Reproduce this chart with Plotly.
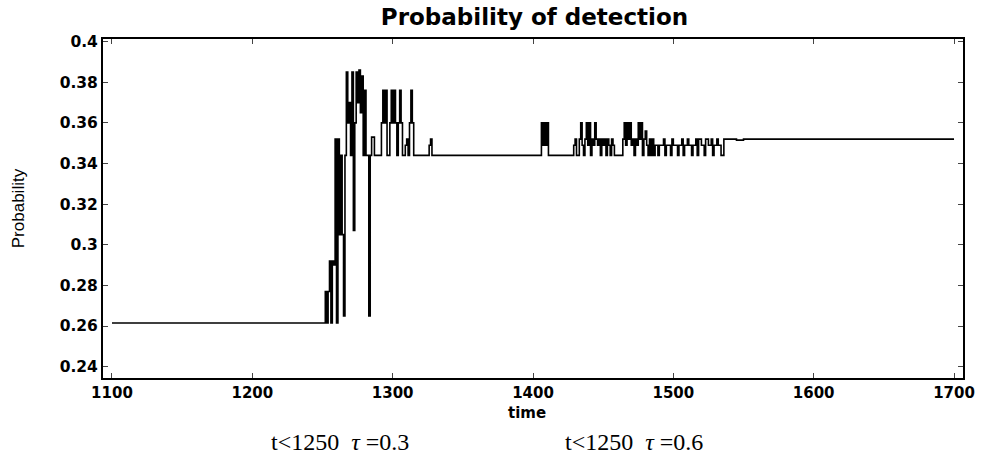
import plotly.graph_objects as go

# change points (step signal)
times = [1100, 1252, 1253, 1254, 1255, 1256, 1257, 1258, 1259, 1260, 1261, 1262, 1263, 1264, 1265,
         1266, 1267, 1268, 1269, 1270, 1271, 1272, 1273, 1274, 1275, 1276, 1277, 1278, 1279, 1280,
         1281, 1283, 1284, 1285, 1287,
         1292, 1293, 1294, 1295, 1296, 1298, 1299, 1300, 1301, 1302, 1303, 1304, 1305, 1306, 1307,
         1309, 1310, 1311, 1312, 1313, 1314, 1315,
         1326, 1327, 1328,
         1406, 1407, 1408, 1409, 1410, 1411,
         1429, 1430, 1431, 1433, 1434, 1435, 1436, 1437, 1438, 1439, 1440, 1441, 1442, 1443, 1444,
         1445, 1446, 1447, 1448, 1449, 1450, 1451, 1452, 1453, 1454, 1455, 1456, 1457, 1458,
         1464, 1465, 1466, 1467, 1468, 1469, 1470, 1471, 1472, 1473, 1474, 1475, 1476, 1477, 1478,
         1479, 1480, 1481, 1482, 1483, 1484, 1485, 1486, 1487, 1489, 1490, 1493, 1494, 1495, 1498,
         1499, 1500, 1503, 1504, 1506, 1507, 1508, 1510, 1511, 1513, 1514, 1516, 1517, 1518, 1520,
         1522, 1523, 1525, 1527, 1528, 1529, 1531, 1532, 1534, 1536, 1545, 1550, 1700]
probability = [0.2615, 0.277, 0.2615, 0.277, 0.292, 0.2615, 0.292, 0.290, 0.352, 0.2615, 0.352, 0.305, 0.344, 0.305, 0.265,
               0.344, 0.385, 0.360, 0.370, 0.344, 0.385, 0.307, 0.360, 0.385, 0.370, 0.386, 0.365, 0.383, 0.344, 0.376,
               0.344, 0.265, 0.344, 0.353, 0.344,
               0.360, 0.376, 0.360, 0.376, 0.344, 0.360, 0.376, 0.360, 0.376, 0.360, 0.344, 0.360, 0.376, 0.360, 0.344,
               0.349, 0.352, 0.344, 0.360, 0.376, 0.360, 0.344,
               0.349, 0.352, 0.344,
               0.360, 0.349, 0.360, 0.349, 0.360, 0.344,
               0.349, 0.352, 0.344, 0.352, 0.360, 0.349, 0.344, 0.352, 0.360, 0.349, 0.360, 0.344, 0.352, 0.349, 0.360,
               0.352, 0.349, 0.352, 0.344, 0.352, 0.349, 0.352, 0.344, 0.352, 0.349, 0.344, 0.352, 0.349, 0.344,
               0.352, 0.360, 0.349, 0.360, 0.352, 0.360, 0.349, 0.352, 0.344, 0.352, 0.349, 0.360, 0.352, 0.360, 0.344,
               0.352, 0.356, 0.349, 0.344, 0.352, 0.344, 0.352, 0.344, 0.349, 0.344, 0.349, 0.352, 0.344, 0.349, 0.344,
               0.352, 0.349, 0.344, 0.349, 0.352, 0.344, 0.349, 0.352, 0.349, 0.344, 0.349, 0.352, 0.344, 0.352, 0.349,
               0.344, 0.352, 0.349, 0.352, 0.344, 0.349, 0.352, 0.349, 0.344, 0.352, 0.3515, 0.352, 0.352]

x_ticks = [1100, 1200, 1300, 1400, 1500, 1600, 1700]
y_ticks = [0.24, 0.26, 0.28, 0.30, 0.32, 0.34, 0.36, 0.38, 0.40]
y_tick_labels = ["0.24", "0.26", "0.28", "0.3", "0.32", "0.34", "0.36", "0.38", "0.4"]

title_text = "Probability of detection"
x_label = "time"
y_label = "Probability"
captions = ["t<1250  <i>τ</i> =0.3", "t<1250  <i>τ</i> =0.6"]

fig = go.Figure()
fig.add_trace(go.Scatter(x=times, y=probability, mode="lines", line_shape="hv",
                         line=dict(color="black", width=1.6), showlegend=False))

fig.update_xaxes(range=[1093.6, 1706.4], tickvals=x_ticks, ticks="inside", ticklen=5,
                 showline=True, linecolor="black", linewidth=2, mirror="ticks",
                 showgrid=False, zeroline=False,
                 tickfont=dict(family="DejaVu Sans", size=15, color="black", weight="bold"))
fig.update_yaxes(range=[0.2344, 0.4013], tickvals=y_ticks, ticktext=y_tick_labels,
                 ticks="inside", ticklen=5, showline=True, linecolor="black", linewidth=2,
                 mirror="ticks", showgrid=False, zeroline=False,
                 tickfont=dict(family="DejaVu Sans", size=15.5, color="black", weight="bold"))

annotations = [
    dict(text=x_label, xref="paper", yref="paper", x=0.493, y=-0.102, showarrow=False,
         font=dict(family="DejaVu Sans", size=15, color="black", weight="bold"),
         xanchor="center", yanchor="middle"),
    dict(text=y_label, xref="paper", yref="paper", x=-0.098, y=0.5, showarrow=False,
         textangle=-90, font=dict(family="Liberation Sans", size=17, color="black"),
         xanchor="center", yanchor="middle"),
    dict(text=captions[0], xref="paper", yref="paper", x=0.275, y=-0.19, showarrow=False,
         font=dict(family="Liberation Serif", size=24, color="black"),
         xanchor="center", yanchor="middle"),
    dict(text=captions[1], xref="paper", yref="paper", x=0.618, y=-0.19, showarrow=False,
         font=dict(family="Liberation Serif", size=24, color="black"),
         xanchor="center", yanchor="middle"),
]

fig.update_layout(
    width=987, height=461,
    margin=dict(l=103, r=21, t=39, b=83),
    paper_bgcolor="white", plot_bgcolor="white",
    title=dict(text=title_text, x=0.5415, xanchor="center", y=0.963, yanchor="middle",
               font=dict(family="DejaVu Sans", size=23, color="black", weight="bold")),
    annotations=annotations,
)

fig.write_html("out.html")
